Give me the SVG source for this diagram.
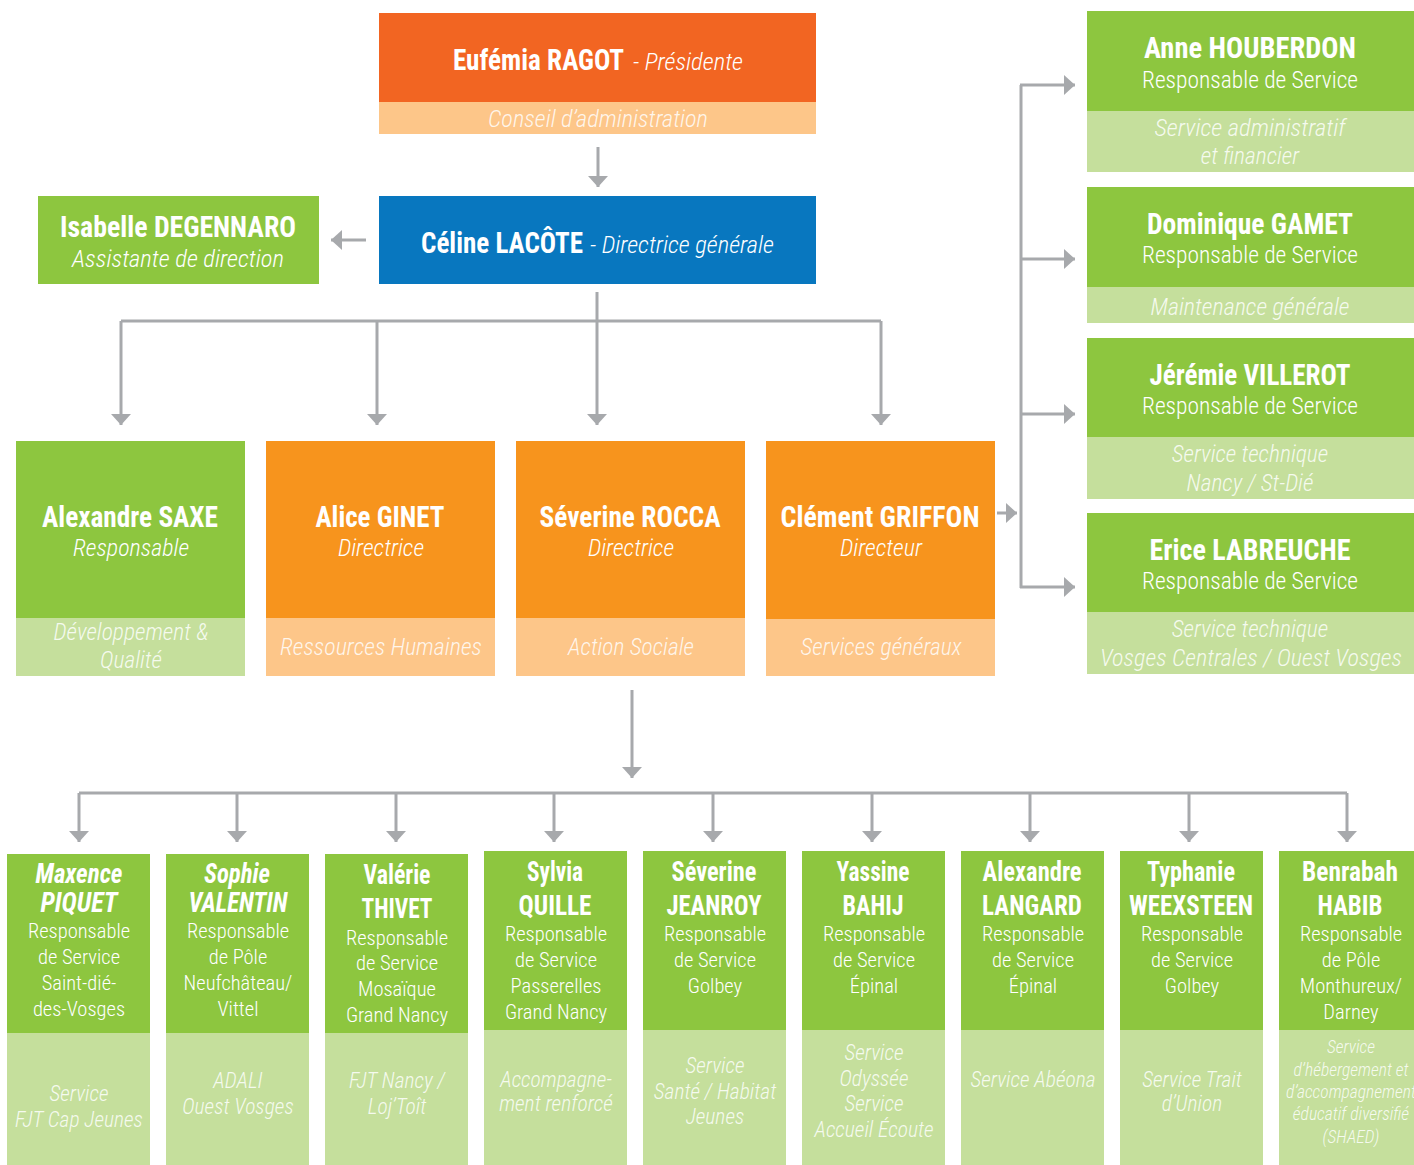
<svg xmlns="http://www.w3.org/2000/svg" width="1414" height="1165" viewBox="0 0 1414 1165">
<defs>
<marker id="ah" viewBox="0 0 11 20" refX="11" refY="10" markerWidth="11" markerHeight="20" markerUnits="userSpaceOnUse" orient="auto"><path d="M0,0 L11,10 L0,20 Z" fill="#A7A9AC"/></marker>
</defs>
<style>
text{font-family:"Roboto Condensed","DejaVu Sans Condensed","Liberation Sans",sans-serif;fill:#fff;text-anchor:middle}
.n{font-weight:bold;font-size:30px}
.nb{font-weight:bold;font-size:27px}
.i{font-style:italic;font-weight:300;font-size:24px}
.r{font-weight:300;font-size:23px}
.rs{font-weight:300;font-size:20.5px}
.l{font-style:italic;font-weight:300;font-size:23.5px;fill:#fff;fill-opacity:0.85}
.ls{font-style:italic;font-weight:300;font-size:21.5px;fill:#fff;fill-opacity:0.85}
.lx{font-style:italic;font-weight:300;font-size:17.5px;fill:#fff;fill-opacity:0.85}
.s{text-anchor:start}
.g{fill:#8DC63F}.gl{fill:#C5DF9C}.o{fill:#F7941D}.ol{fill:#FDC689}.r0{fill:#F26522}.b{fill:#0877BF}
.c{fill:none;stroke:#A7A9AC;stroke-width:3}
</style>
<rect width="1414" height="1165" fill="#fff"/>
<g id="connectors">
<path class="c" d="M598,147 V187" marker-end="url(#ah)"/>
<path class="c" d="M366,240 H331" marker-end="url(#ah)"/>
<path class="c" d="M597,292 V425" marker-end="url(#ah)"/>
<path class="c" d="M121,321 H881"/>
<path class="c" d="M121,321 V425" marker-end="url(#ah)"/>
<path class="c" d="M377,321 V425" marker-end="url(#ah)"/>
<path class="c" d="M881,321 V425" marker-end="url(#ah)"/>
<path class="c" d="M997,513 H1017" marker-end="url(#ah)"/>
<path class="c" d="M1021,85 V588"/>
<path class="c" d="M1020,85 H1075" marker-end="url(#ah)"/>
<path class="c" d="M1020,259 H1075" marker-end="url(#ah)"/>
<path class="c" d="M1020,414 H1075" marker-end="url(#ah)"/>
<path class="c" d="M1020,587 H1075" marker-end="url(#ah)"/>
<path class="c" d="M632,690 V778" marker-end="url(#ah)"/>
<path class="c" d="M79,793 H1347"/>
<path class="c" d="M79,793 V842" marker-end="url(#ah)"/>
<path class="c" d="M237,793 V842" marker-end="url(#ah)"/>
<path class="c" d="M396,793 V842" marker-end="url(#ah)"/>
<path class="c" d="M554,793 V842" marker-end="url(#ah)"/>
<path class="c" d="M713,793 V842" marker-end="url(#ah)"/>
<path class="c" d="M872,793 V842" marker-end="url(#ah)"/>
<path class="c" d="M1030,793 V842" marker-end="url(#ah)"/>
<path class="c" d="M1189,793 V842" marker-end="url(#ah)"/>
<path class="c" d="M1347,793 V842" marker-end="url(#ah)"/>
</g>
<g id="ragot">
<rect class="r0" x="379" y="13" width="437" height="89"/>
<rect class="ol" x="379" y="102" width="437" height="32"/>
<text class="s" x="453" y="70"><tspan class="n" textLength="171" lengthAdjust="spacingAndGlyphs">Eufémia RAGOT</tspan><tspan class="i" x="633" textLength="110" lengthAdjust="spacingAndGlyphs">- Présidente</tspan></text>
<text class="l" x="598" y="127" textLength="220" lengthAdjust="spacingAndGlyphs">Conseil d’administration</text>
</g>
<g id="lacote">
<rect class="b" x="379" y="196" width="437" height="88"/>
<text class="s" x="421" y="253"><tspan class="n" textLength="162" lengthAdjust="spacingAndGlyphs">Céline LACÔTE</tspan><tspan class="i" x="590" textLength="184" lengthAdjust="spacingAndGlyphs">- Directrice générale</tspan></text>
</g>
<g id="degennaro">
<rect class="g" x="38" y="196" width="281" height="88"/>
<text class="n" x="178" y="237" textLength="236" lengthAdjust="spacingAndGlyphs">Isabelle DEGENNARO</text>
<text class="i" x="178" y="267" textLength="212" lengthAdjust="spacingAndGlyphs">Assistante de direction</text>
</g>
<g id="saxe">
<rect class="g" x="16" y="441" width="229" height="177"/>
<rect class="gl" x="16" y="618" width="229" height="58"/>
<text class="n" x="130" y="527" textLength="176" lengthAdjust="spacingAndGlyphs">Alexandre SAXE</text>
<text class="i" x="131" y="556">Responsable</text>
<text class="l" x="131" y="640">Développement &amp;</text>
<text class="l" x="131" y="668">Qualité</text>
</g>
<g id="ginet">
<rect class="o" x="266" y="441" width="229" height="177"/>
<rect class="ol" x="266" y="618" width="229" height="58"/>
<text class="n" x="380" y="527" textLength="129" lengthAdjust="spacingAndGlyphs">Alice GINET</text>
<text class="i" x="381" y="556">Directrice</text>
<text class="l" x="381" y="655" textLength="202" lengthAdjust="spacingAndGlyphs">Ressources Humaines</text>
</g>
<g id="rocca">
<rect class="o" x="516" y="441" width="229" height="177"/>
<rect class="ol" x="516" y="618" width="229" height="58"/>
<text class="n" x="630" y="527" textLength="181" lengthAdjust="spacingAndGlyphs">Séverine ROCCA</text>
<text class="i" x="631" y="556">Directrice</text>
<text class="l" x="631" y="655">Action Sociale</text>
</g>
<g id="griffon">
<rect class="o" x="766" y="441" width="229" height="178"/>
<rect class="ol" x="766" y="619" width="229" height="57"/>
<text class="n" x="880" y="527" textLength="199" lengthAdjust="spacingAndGlyphs">Clément GRIFFON</text>
<text class="i" x="881" y="556">Directeur</text>
<text class="l" x="881" y="655">Services généraux</text>
</g>
<g id="houberdon">
<rect class="g" x="1087" y="11" width="327" height="100"/>
<rect class="gl" x="1087" y="111" width="327" height="61"/>
<text class="n" x="1250" y="58" textLength="212" lengthAdjust="spacingAndGlyphs">Anne HOUBERDON</text>
<text class="r" x="1250" y="88" textLength="216" lengthAdjust="spacingAndGlyphs">Responsable de Service</text>
<text class="l" x="1250" y="136" textLength="191" lengthAdjust="spacingAndGlyphs">Service administratif</text>
<text class="l" x="1250" y="164">et financier</text>
</g>
<g id="gamet">
<rect class="g" x="1087" y="187" width="327" height="100"/>
<rect class="gl" x="1087" y="287" width="327" height="36"/>
<text class="n" x="1250" y="234" textLength="206" lengthAdjust="spacingAndGlyphs">Dominique GAMET</text>
<text class="r" x="1250" y="263" textLength="216" lengthAdjust="spacingAndGlyphs">Responsable de Service</text>
<text class="l" x="1250" y="315" textLength="199" lengthAdjust="spacingAndGlyphs">Maintenance générale</text>
</g>
<g id="villerot">
<rect class="g" x="1087" y="338" width="327" height="99"/>
<rect class="gl" x="1087" y="437" width="327" height="62"/>
<text class="n" x="1250" y="385" textLength="201" lengthAdjust="spacingAndGlyphs">Jérémie VILLEROT</text>
<text class="r" x="1250" y="414" textLength="216" lengthAdjust="spacingAndGlyphs">Responsable de Service</text>
<text class="l" x="1250" y="462">Service technique</text>
<text class="l" x="1250" y="491">Nancy / St-Dié</text>
</g>
<g id="labreuche">
<rect class="g" x="1087" y="513" width="327" height="99"/>
<rect class="gl" x="1087" y="612" width="327" height="62"/>
<text class="n" x="1250" y="560" textLength="201" lengthAdjust="spacingAndGlyphs">Erice LABREUCHE</text>
<text class="r" x="1250" y="589" textLength="216" lengthAdjust="spacingAndGlyphs">Responsable de Service</text>
<text class="l" x="1250" y="637">Service technique</text>
<text class="l" x="1251" y="666" textLength="302" lengthAdjust="spacingAndGlyphs">Vosges Centrales / Ouest Vosges</text>
</g>
<g id="piquet">
<rect class="g" x="7" y="854" width="143" height="179"/>
<rect class="gl" x="7" y="1033" width="143" height="132"/>
<text class="nb" x="79" y="883" font-style="italic" textLength="87" lengthAdjust="spacingAndGlyphs">Maxence</text>
<text class="nb" x="79" y="912" font-style="italic" textLength="77" lengthAdjust="spacingAndGlyphs">PIQUET</text>
<text class="rs" x="79" y="938">Responsable</text>
<text class="rs" x="79" y="964">de Service</text>
<text class="rs" x="79" y="990">Saint-dié-</text>
<text class="rs" x="79" y="1016">des-Vosges</text>
<text class="ls" x="79" y="1101">Service</text>
<text class="ls" x="79" y="1127">FJT Cap Jeunes</text>
</g>
<g id="valentin">
<rect class="g" x="166" y="854" width="143" height="179"/>
<rect class="gl" x="166" y="1033" width="143" height="132"/>
<text class="nb" x="237" y="883" font-style="italic" textLength="66" lengthAdjust="spacingAndGlyphs">Sophie</text>
<text class="nb" x="238" y="912" font-style="italic" textLength="99" lengthAdjust="spacingAndGlyphs">VALENTIN</text>
<text class="rs" x="238" y="938">Responsable</text>
<text class="rs" x="238" y="964">de Pôle</text>
<text class="rs" x="238" y="990">Neufchâteau/</text>
<text class="rs" x="238" y="1016">Vittel</text>
<text class="ls" x="238" y="1088">ADALI</text>
<text class="ls" x="238" y="1114">Ouest Vosges</text>
</g>
<g id="thivet">
<rect class="g" x="325" y="854" width="143" height="179"/>
<rect class="gl" x="325" y="1033" width="143" height="132"/>
<text class="nb" x="397" y="884" textLength="67" lengthAdjust="spacingAndGlyphs">Valérie</text>
<text class="nb" x="397" y="918" textLength="71" lengthAdjust="spacingAndGlyphs">THIVET</text>
<text class="rs" x="397" y="945">Responsable</text>
<text class="rs" x="397" y="970">de Service</text>
<text class="rs" x="397" y="996">Mosaïque</text>
<text class="rs" x="397" y="1022">Grand Nancy</text>
<text class="ls" x="397" y="1088">FJT Nancy /</text>
<text class="ls" x="397" y="1114">Loj’Toît</text>
</g>
<g id="quille">
<rect class="g" x="484" y="851" width="143" height="179"/>
<rect class="gl" x="484" y="1030" width="143" height="135"/>
<text class="nb" x="555" y="881" textLength="56" lengthAdjust="spacingAndGlyphs">Sylvia</text>
<text class="nb" x="555" y="915" textLength="73" lengthAdjust="spacingAndGlyphs">QUILLE</text>
<text class="rs" x="556" y="941">Responsable</text>
<text class="rs" x="556" y="967">de Service</text>
<text class="rs" x="556" y="993">Passerelles</text>
<text class="rs" x="556" y="1019">Grand Nancy</text>
<text class="ls" x="556" y="1087">Accompagne-</text>
<text class="ls" x="556" y="1111">ment renforcé</text>
</g>
<g id="jeanroy">
<rect class="g" x="643" y="851" width="143" height="179"/>
<rect class="gl" x="643" y="1030" width="143" height="135"/>
<text class="nb" x="714" y="881" textLength="85" lengthAdjust="spacingAndGlyphs">Séverine</text>
<text class="nb" x="714" y="915" textLength="95" lengthAdjust="spacingAndGlyphs">JEANROY</text>
<text class="rs" x="715" y="941">Responsable</text>
<text class="rs" x="715" y="967">de Service</text>
<text class="rs" x="715" y="993">Golbey</text>
<text class="ls" x="715" y="1073">Service</text>
<text class="ls" x="715" y="1099">Santé / Habitat</text>
<text class="ls" x="715" y="1124">Jeunes</text>
</g>
<g id="bahij">
<rect class="g" x="802" y="851" width="143" height="179"/>
<rect class="gl" x="802" y="1030" width="143" height="135"/>
<text class="nb" x="873" y="881" textLength="73" lengthAdjust="spacingAndGlyphs">Yassine</text>
<text class="nb" x="873" y="915" textLength="61" lengthAdjust="spacingAndGlyphs">BAHIJ</text>
<text class="rs" x="874" y="941">Responsable</text>
<text class="rs" x="874" y="967">de Service</text>
<text class="rs" x="874" y="993">Épinal</text>
<text class="ls" x="874" y="1060">Service</text>
<text class="ls" x="874" y="1086">Odyssée</text>
<text class="ls" x="874" y="1111">Service</text>
<text class="ls" x="874" y="1137">Accueil Écoute</text>
</g>
<g id="langard">
<rect class="g" x="961" y="851" width="143" height="179"/>
<rect class="gl" x="961" y="1030" width="143" height="135"/>
<text class="nb" x="1032" y="881" textLength="99" lengthAdjust="spacingAndGlyphs">Alexandre</text>
<text class="nb" x="1032" y="915" textLength="100" lengthAdjust="spacingAndGlyphs">LANGARD</text>
<text class="rs" x="1033" y="941">Responsable</text>
<text class="rs" x="1033" y="967">de Service</text>
<text class="rs" x="1033" y="993">Épinal</text>
<text class="ls" x="1033" y="1087">Service Abéona</text>
</g>
<g id="weexsteen">
<rect class="g" x="1120" y="851" width="143" height="179"/>
<rect class="gl" x="1120" y="1030" width="143" height="135"/>
<text class="nb" x="1191" y="881" textLength="88" lengthAdjust="spacingAndGlyphs">Typhanie</text>
<text class="nb" x="1191" y="915" textLength="124" lengthAdjust="spacingAndGlyphs">WEEXSTEEN</text>
<text class="rs" x="1192" y="941">Responsable</text>
<text class="rs" x="1192" y="967">de Service</text>
<text class="rs" x="1192" y="993">Golbey</text>
<text class="ls" x="1192" y="1087">Service Trait</text>
<text class="ls" x="1192" y="1111">d’Union</text>
</g>
<g id="habib">
<rect class="g" x="1279" y="851" width="143" height="179"/>
<rect class="gl" x="1279" y="1030" width="143" height="135"/>
<text class="nb" x="1350" y="881" textLength="96" lengthAdjust="spacingAndGlyphs">Benrabah</text>
<text class="nb" x="1350" y="915" textLength="65" lengthAdjust="spacingAndGlyphs">HABIB</text>
<text class="rs" x="1351" y="941">Responsable</text>
<text class="rs" x="1351" y="967">de Pôle</text>
<text class="rs" x="1351" y="993">Monthureux/</text>
<text class="rs" x="1351" y="1019">Darney</text>
<text class="lx" x="1351" y="1053">Service</text>
<text class="lx" x="1351" y="1076">d’hébergement et</text>
<text class="lx" x="1351" y="1098">d’accompagnement</text>
<text class="lx" x="1351" y="1120">éducatif diversifié</text>
<text class="lx" x="1351" y="1143">(SHAED)</text>
</g>
</svg>
